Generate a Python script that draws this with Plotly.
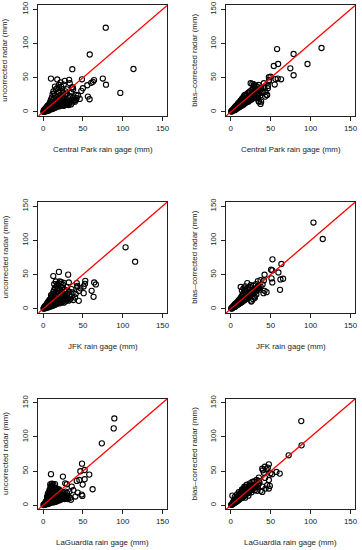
import plotly.graph_objects as go

# ---------------- data: (gage mm, radar mm) pairs ----------------
cp_uncorrected = [
    (78.7,123.2),(58.6,84.0),(113.5,62.8),(36.7,62.5),(9.9,48.7),(17.8,47.5),(48.8,47.7),(75.0,48.8),
    (79.0,39.8),(97.0,27.8),(32.7,47.0),(21.9,43.3),(27.3,45.5),(33.5,42.0),(26.0,40.0),(19.9,39.4),
    (14.9,37.0),(60.5,42.5),(62.5,44.0),(64.0,46.5),(55.5,39.0),(50.0,34.6),(48.0,30.7),(37.7,33.0),
    (56.3,22.4),(58.4,18.5),(46.0,19.0),(41.8,24.8),(44.0,24.0),(41.4,17.5),(37.3,36.0),(22.8,37.0),
    (0.5,0.3),(1,0.8),(1.5,1.2),(2,1),(2.5,2),(3,1.5),(3,3),(4,2),(4,3.5),(5,2.5),(5,4.5),(6,3),(6,5.5),
    (0.8,1.5),(1.2,2.5),(2,3.5),(3,5),(4,6),(5,8),(6,7),(1,0.2),(2,0.5),(3,0.8),(4,1),(5,1.5),(6,1.8),(7,2),
    (7,4),(7,6),(8,3),(8,5),(8,8),(9,4),(9,6.5),(9,10),(10,5),(10,7),(10,12),(11,4),(11,8),(11,14),
    (12,6),(12,9),(12,17),(13,5),(13,8),(13,11),(14,7),(14,10),(14,20),(15,6),(15,9),(15,13),(15,24),
    (8,12),(9,15),(10,18),(11,21),(12,26),(7,10),(6,9),(13,30),(16,33),(14,27),
    (16,8),(16,11),(16,15),(17,7),(17,12),(17,18),(18,9),(18,14),(18,22),(19,10),(19,16),(20,8),(20,12),
    (20,19),(20,28),(21,11),(21,15),(22,9),(22,13),(22,18),(22,25),(23,12),(23,16),(24,10),(24,14),
    (24,21),(25,12),(25,17),(25,28),(18,35),(20,36),(23,30),
    (26,9),(26,14),(27,12),(27,19),(28,10),(28,15),(28,24),(29,13),(30,11),(30,17),(30,27),(31,14),
    (32,10),(32,20),(33,13),(34,16),(34,23),(35,11),(36,18),(37,14),(38,21),(39,17),(40,15),(42,20),
    (30,33),(35,29),(28,30),(36,36),
]

cp_corrected = [
    (58.0,92.0),(113.7,93.5),(78.7,84.8),(59.3,70.1),(96.1,70.1),(53.9,67.2),(74.6,63.8),(78.7,53.6),
    (63.0,47.7),(58.8,48.7),(55.0,40.0),(47.7,50.7),(49.8,51.5),(48.0,46.8),(46.4,34.6),(44.8,24.8),
    (47.7,44.3),(41.4,42.0),(46.4,38.0),(35.0,39.4),(33.0,37.0),(29.0,40.4),(24.9,42.0),(43.5,29.7),
    (45.6,24.8),(35.2,27.3),(56.0,48.0),(38.0,35.0),(30.0,33.0),(40.0,30.0),(35.2,15.0),(37.3,11.7),
    (43.1,22.4),
    (0.5,0.5),(1,1.3),(1.5,0.8),(2,2.5),(2,1.2),(3,2),(3,3.8),(4,3),(4,5),(5,4),(5,6.5),(5,2.5),(6,5),
    (6,8),(6,3.5),(7,6),(7,9),(7,4.5),(8,7),(8,10),(8,5),(9,8),(9,12),(9,6),(10,9),(10,13),(10,6.5),
    (11,10),(11,14),(11,7.5),(12,11),(12,16),(12,8),(13,12),(13,17),(13,9),(14,13),(14,19),(14,9.5),
    (15,14),(15,20),(15,10),(16,15),(16,22),(16,11),(17,16),(17,24),(17,12),(18,17),(18,25),(18,13),
    (19,18),(19,14),(20,19),(20,26),(20,14),(21,20),(21,16),(22,21),(22,28),(22,15),(23,22),(23,17),
    (24,23),(24,30),(24,17),(25,24),(25,19),(26,25),(26,32),(26,18),(27,26),(27,21),(28,27),(28,34),
    (28,20),(29,23),(30,28),(30,36),(30,22),(31,25),(32,30),(32,20),(33,27),(34,32),(35,26),(36,31),
    (37,24),(38,33),(40,28),(42,36),(27,41),(29,38),(31,38),(34,20),(38,15),(35,16),
]

jfk_uncorrected = [
    (103.6,89.9),(115.6,68.9),(12.8,47.9),(19.9,54.0),(31.5,50.0),(32.3,38.6),(21.0,40.0),(42.3,37.6),
    (43.0,33.7),(43.0,31.8),(53.0,41.0),(52.6,36.6),(51.0,32.7),(64.2,38.6),(66.3,35.7),(61.0,26.4),
    (63.4,17.6),(44.8,11.7),(40.2,16.6),(51.0,23.0),(35.6,28.8),(28.0,26.0),(37.0,24.0),(33.0,20.0),
    (25.0,35.0),(30.0,32.0),
    (0.5,0.5),(1,1.5),(1.5,0.5),(2,2),(2,3.5),(3,1),(3,2.5),(3,4.5),(4,2),(4,4),(4,6),(5,1.5),(5,3.5),
    (5,6),(5,8),(6,3),(6,5),(6,8),(6,10),(7,2.5),(7,5),(7,7),(7,11),(8,4),(8,7),(8,10),(8,13),(9,3.5),
    (9,6),(9,9),(9,14),(10,5),(10,8),(10,12),(10,16),(10,20),(11,4),(11,7),(11,11),(11,18),(12,6),
    (12,9),(12,14),(12,22),(13,5),(13,8),(13,12),(13,17),(13,25),(14,7),(14,10),(14,15),(14,28),(15,6),
    (15,9),(15,13),(15,20),(15,31),(16,8),(16,12),(16,17),(16,24),(17,7),(17,11),(17,22),(17,33),(18,9),
    (18,14),(18,27),(18,36),(19,10),(19,19),(19,30),(20,8),(20,12),(20,24),(20,37),(21,11),(21,28),
    (22,9),(22,14),(22,20),(22,33),(23,12),(23,25),(24,10),(24,17),(24,30),(25,12),(25,22),(26,9),
    (26,15),(27,13),(27,28),(28,11),(28,18),(29,15),(30,13),(30,22),(31,16),(32,12),(33,25),(34,14),
    (36,18),(38,13),(41,22),(45,26),(47,30),(26,38),(23,39),(16,40),(14,36),
]

jfk_corrected = [
    (103.6,126.0),(115.2,102.0),(52.2,72.3),(63.4,65.5),(50.5,57.2),(52.0,56.2),(59.7,53.2),(65.5,44.0),
    (51.0,44.5),(52.0,38.6),(42.3,49.8),(41.4,41.5),(34.0,40.5),(39.8,35.7),(37.3,32.7),(61.7,27.8),
    (42.3,26.4),(44.8,24.4),(41.0,23.0),(31.5,36.0),(25.7,10.7),(20.7,37.6),(30.0,16.0),(35.0,30.0),
    (62.2,43.0),(24.9,34.7),(12.4,32.0),(37.3,42.0),
    (0.5,0.5),(1,1.4),(1.5,0.7),(2,2.4),(2,1.2),(3,2.2),(3,3.8),(4,3),(4,5),(5,4),(5,6.5),(5,2.8),(6,5),
    (6,7.5),(6,3.8),(7,6),(7,8.5),(7,4.8),(8,7),(8,10),(8,5.5),(9,8),(9,11),(9,6.5),(10,9),(10,12.5),
    (10,7),(11,10),(11,14),(11,8),(12,11),(12,15),(12,8.5),(13,12),(13,17),(13,9.5),(14,13),(14,19),
    (14,10),(15,14),(15,21),(15,11),(16,15),(16,23),(16,12),(17,16),(17,25),(17,13),(18,17),(18,27),
    (18,13.5),(19,18),(19,14.5),(20,19),(20,29),(20,15),(21,20),(21,16),(22,21),(22,30),(22,17),
    (23,22),(23,18),(24,23),(24,32),(24,18.5),(25,24),(25,20),(26,25),(26,21),(27,26),(27,22),(28,27),
    (28,34),(28,23),(29,26),(30,28),(30,24),(31,30),(32,27),(33,31),(34,29),(35,33),(36,28),(26,12),
    (28,14),(30,18),(32,21),(14,27),(16,30),(18,33),
]

lga_uncorrected = [
    (89.5,127.1),(88.7,112.5),(73.8,90.6),(48.9,60.9),(52.2,51.6),(46.8,49.7),(58.0,44.8),(9.9,45.5),
    (24.9,41.9),(52.2,38.0),(45.6,37.0),(42.3,35.6),(49.7,30.2),(62.2,23.4),(43.5,18.5),(48.5,15.6),
    (40.6,12.7),(49.3,13.6),(36.0,27.3),(27.8,32.1),(29.8,30.7),(9.0,30.5),(11.0,31.5),(13.0,30.0),
    (15.0,31.0),(10.0,28.5),(12.0,27.5),(38.0,22.0),(33.0,20.0),
    (0.5,0.3),(1,1),(1.5,0.5),(2,1.8),(2,0.8),(3,1.2),(3,2.8),(3,4.5),(4,2),(4,3.5),(4,6),(5,1.5),(5,3),
    (5,5),(5,8),(6,2.5),(6,4),(6,6.5),(6,10),(7,2),(7,4.5),(7,7),(7,12),(8,3),(8,5),(8,8),(8,13),(9,4),
    (9,6),(9,10),(9,15),(10,3.5),(10,5.5),(10,8),(10,12),(10,18),(11,4.5),(11,7),(11,10),(11,14),(12,5),
    (12,8),(12,11),(12,16),(13,4),(13,6.5),(13,9),(13,13),(14,5.5),(14,8),(14,11),(14,15),(15,6),(15,9),
    (15,12),(15,17),(16,5),(16,8),(16,11),(17,7),(17,10),(17,14),(18,6),(18,9),(18,12),(18,18),(19,8),
    (19,11),(20,7),(20,10),(20,14),(21,9),(21,12),(22,8),(22,11),(22,16),(23,10),(24,9),(24,13),(25,11),
    (26,10),(26,15),(27,9),(28,12),(29,10),(30,14),(31,9),(32,12),(34,11),(35,8),(8,20),(10,22),(12,24),
    (14,22),(16,20),(18,21),(20,20),(22,21),(25,19),(28,20),(30,18),(7,16),(9,19),(11,25),
    (6,14),(7,18),(8,22),(9,25),(10,26),(11,20),(12,19),(13,21),(13,26),(14,18),(15,23),(16,25),
    (17,17),(18,24),(19,16),(20,23),(5,12),(6,17),(8,17),(10,15),(12,13),
]

lga_corrected = [
    (88.3,123.2),(88.7,87.7),(72.5,73.1),(47.7,59.9),(46.4,55.0),(44.8,52.6),(40.2,51.1),(41.4,47.7),
    (49.7,46.8),(51.8,45.3),(57.2,48.7),(61.3,46.3),(47.7,37.0),(39.4,27.3),(35.2,35.6),(39.4,19.5),
    (48.9,28.3),(47.7,24.4),(32.3,37.0),(35.0,31.0),(30.0,28.0),(25.0,29.0),(43.0,40.0),(33.0,21.0),
    (42.7,56.4),(39.4,53.5),(35.2,40.4),(45.6,29.2),(43.5,24.3),(37.3,21.0),(29.0,34.0),
    (0.5,0.5),(1,0.8),(1.5,1.5),(2,2.3),(2,1),(3,2),(3,3.5),(3,5),(4,3),(4,4.5),(4,6.5),(5,3.5),(5,5.5),
    (5,8),(6,4.5),(6,6.5),(6,9),(7,5),(7,7.5),(7,10.5),(8,6),(8,8.5),(8,12),(9,7),(9,10),(9,13),(10,7.5),
    (10,11),(10,15),(11,9),(11,12),(11,16),(12,9.5),(12,13),(12,17),(13,10.5),(13,14),(13,19),(14,11),
    (14,15),(14,20),(15,12),(15,16),(15,22),(16,13),(16,18),(16,24),(17,14),(17,19),(18,14.5),(18,20),
    (18,26),(19,16),(19,22),(20,17),(20,23),(20,27),(21,18),(21,24),(22,18),(22,26),(23,20),(23,27),
    (24,21),(25,22),(25,28),(26,23),(27,25),(28,24),(28,30),(29,27),(30,26),(31,30),(32,28),(34,31),
    (36,33),(2,14),(5,12),(8,16),(10,19),(14,23),(17,27),(20,30),(24,32),(18,11),(22,14),(26,19),
    (30,22),(34,26),(27,34),(29,35),
]

x_titles = ["Central Park rain gage (mm)", "JFK rain gage (mm)", "LaGuardia rain gage (mm)"]
y_titles = ["uncorrected radar (mm)", "bias\u2013corrected radar (mm)"]
tick_values = [0, 50, 100, 150]
axis_limits = [-6, 156]

panels = [
    (cp_uncorrected, x_titles[0], y_titles[0]),
    (cp_corrected, x_titles[0], y_titles[1]),
    (jfk_uncorrected, x_titles[1], y_titles[0]),
    (jfk_corrected, x_titles[1], y_titles[1]),
    (lga_uncorrected, x_titles[2], y_titles[0]),
    (lga_corrected, x_titles[2], y_titles[1]),
]

# ---------------- layout (pixel boxes) ----------------
W, H = 362, 550
col_px = [(38.3, 167.3), (226.0, 355.3)]
row_px = [(5.3, 116.0), (202.0, 313.0), (398.7, 509.3)]
ytitle_off = [33.3, 31.8]
xtitle_off = 33.0
FONT = "Liberation Sans, Arial, Helvetica, sans-serif"
FS = 7.9

fig = go.Figure()
layout = dict(
    width=W, height=H, autosize=False,
    margin=dict(l=0, r=0, t=0, b=0),
    paper_bgcolor="white", plot_bgcolor="white",
    showlegend=False,
    font=dict(family=FONT, size=FS, color="black"),
)
annotations = []
shapes = []

for i, (pts, xt, yt) in enumerate(panels):
    n = i + 1
    r, c = divmod(i, 2)
    x0, x1 = col_px[c]
    y0, y1 = row_px[r]
    sx = "" if n == 1 else str(n)
    xs = [p[0] for p in pts]
    ys = [p[1] for p in pts]
    fig.add_trace(go.Scatter(
        x=xs, y=ys, mode="markers",
        marker=dict(symbol="circle-open", size=5.2, color="black", line=dict(width=1.1, color="black")),
        xaxis="x" + sx, yaxis="y" + sx, hoverinfo="skip",
    ))
    common = dict(
        range=axis_limits, tickvals=tick_values, ticks="outside", ticklen=4, tickwidth=1,
        tickcolor="#222", showline=True, linecolor="#222", linewidth=1.2, mirror=True,
        showgrid=False, zeroline=False, automargin=False,
        tickfont=dict(family=FONT, size=FS, color="#222"),
    )
    layout["xaxis" + sx] = dict(common, domain=[x0 / W, x1 / W], anchor="y" + sx)
    layout["yaxis" + sx] = dict(common, domain=[1 - y1 / H, 1 - y0 / H], anchor="x" + sx,
                                tickangle=-90, ticklabelstandoff=2)
    shapes.append(dict(type="line", xref="x" + sx, yref="y" + sx,
                       x0=axis_limits[0], y0=axis_limits[0], x1=axis_limits[1], y1=axis_limits[1],
                       line=dict(color="red", width=1.3), layer="above"))
    annotations.append(dict(text=xt, xref="paper", yref="paper",
                            x=(x0 + x1) / 2 / W, y=1 - (y1 + xtitle_off) / H,
                            xanchor="center", yanchor="middle", showarrow=False,
                            font=dict(family=FONT, size=FS, color="#222")))
    annotations.append(dict(text=yt, xref="paper", yref="paper",
                            x=(x0 - ytitle_off[c]) / W, y=1 - (y0 + y1) / 2 / H,
                            xanchor="center", yanchor="middle", textangle=-90, showarrow=False,
                            font=dict(family=FONT, size=FS, color="#222")))

layout["annotations"] = annotations
layout["shapes"] = shapes
fig.update_layout(**layout)
fig.write_html("out.html", config={"displayModeBar": False},
               post_script="document.body.style.margin='0';document.body.style.padding='0';")
